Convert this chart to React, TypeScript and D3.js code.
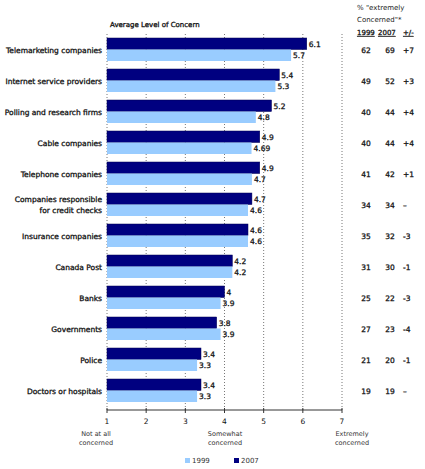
import React from 'react'
import * as d3 from 'd3'

// categories top to bottom
const categories = [
  'Telemarketing companies',
  'Internet service providers',
  'Polling and research firms',
  'Cable companies',
  'Telephone companies',
  'Companies responsible\nfor credit checks',
  'Insurance companies',
  'Canada Post',
  'Banks',
  'Governments',
  'Police',
  'Doctors or hospitals',
]
// average level of concern (1-7 scale)
const values2007 = [6.1, 5.4, 5.2, 4.9, 4.9, 4.7, 4.6, 4.2, 4, 3.8, 3.4, 3.4]
const values1999 = [5.7, 5.3, 4.8, 4.69, 4.7, 4.6, 4.6, 4.2, 3.9, 3.9, 3.3, 3.3]
const labels2007 = ['6.1', '5.4', '5.2', '4.9', '4.9', '4.7', '4.6', '4.2', '4', '3.8', '3.4', '3.4']
const labels1999 = ['5.7', '5.3', '4.8', '4.69', '4.7', '4.6', '4.6', '4.2', '3.9', '3.9', '3.3', '3.3']
// % "extremely concerned"
const pct1999 = ['62', '49', '40', '40', '41', '34', '35', '31', '25', '27', '21', '19']
const pct2007 = ['69', '52', '44', '44', '42', '34', '32', '30', '22', '23', '20', '19']
const pctDiff = ['+7', '+3', '+4', '+4', '+1', '–', '-3', '-1', '-3', '-4', '-1', '–']
const ticks = [1, 2, 3, 4, 5, 6, 7]
const scaleNotes = [
  { cx: 96, lines: ['Not at all', 'concerned'] },
  { cx: 225, lines: ['Somewhat', 'concerned'] },
  { cx: 352, lines: ['Extremely', 'concerned'] },
]

const W = 425, H = 469
const C1999 = '#99ccff'
const C2007 = '#000080'
const font = '"DejaVu Sans", Verdana, sans-serif'
// faux-bold for narrow dark labels
const heavy = { stroke: '#111', strokeWidth: 0.3 }

export default function App() {
  const x = d3.scaleLinear().domain([1, 7]).range([107, 342])
  const y = d3.scaleBand().domain(categories).range([34, 406]).paddingInner(0)
  const barH = 11.5
  const axisY = 410

  return (
    <svg width={W} height={H} style={{ position: 'absolute', left: 0, top: 0, background: '#fff' }}
      fontFamily={font}>
      {/* dotted grid */}
      {ticks.map(t => (
        <line key={t} x1={x(t)} x2={x(t)} y1={34} y2={axisY} stroke="#777" strokeWidth={1}
          strokeDasharray="1,2" />
      ))}
      <text x={110} y={27} fontSize={7} fill="#111" {...heavy}>Average Level of Concern</text>

      {categories.map((c, i) => {
        const cy = (y(c) ?? 0) + y.bandwidth() / 2
        const lines = c.split('\n')
        return (
          <g key={c}>
            <rect x={x(1)} y={cy - barH} width={x(values2007[i]) - x(1)} height={barH} fill={C2007}
              stroke="#000050" strokeWidth={0.5} />
            <rect x={x(1)} y={cy} width={x(values1999[i]) - x(1)} height={barH} fill={C1999} />
            <text x={x(values2007[i]) + 2} y={cy - barH / 2 + 3} fontSize={7.5} fill="#222" {...heavy}>
              {labels2007[i]}</text>
            <text x={x(values1999[i]) + 2} y={cy + barH / 2 + 3} fontSize={7.5} fill="#222" {...heavy}>
              {labels1999[i]}</text>
            {lines.map((l, j) => (
              <text key={j} x={102} y={cy + 3 + (j - (lines.length - 1) / 2) * 11} textAnchor="end"
                fontSize={7.5} fill="#111" {...heavy}>{l}</text>
            ))}
            <text x={366} y={cy + 3} textAnchor="middle" fontSize={7.5} fill="#222" {...heavy}>{pct1999[i]}</text>
            <text x={390} y={cy + 3} textAnchor="middle" fontSize={7.5} fill="#222" {...heavy}>{pct2007[i]}</text>
            <text x={403} y={cy + 3} fontSize={7.5} fill="#222" {...heavy}>{pctDiff[i]}</text>
          </g>
        )
      })}

      {/* table header */}
      <text x={357} y={10} fontSize={7} fill="#222">% "extremely</text>
      <text x={357} y={22} fontSize={7} fill="#222">Concerned"*</text>
      <text x={357} y={35} fontSize={7} fill="#222" {...heavy} textDecoration="underline">1999</text>
      <text x={378} y={35} fontSize={7} fill="#222" {...heavy} textDecoration="underline">2007</text>
      <text x={403} y={35} fontSize={7} fill="#222" {...heavy} textDecoration="underline">+/-</text>

      {/* bottom axis */}
      <line x1={x(1)} x2={x(7)} y1={axisY} y2={axisY} stroke="#333" strokeWidth={1} />
      {ticks.map(t => (
        <g key={t}>
          <line x1={x(t)} x2={x(t)} y1={axisY - 2} y2={axisY + 3} stroke="#333" />
          <text x={x(t)} y={424} textAnchor="middle" fontSize={7.5} fill="#111">{t}</text>
        </g>
      ))}
      {scaleNotes.map(n => n.lines.map((l, j) => (
        <text key={n.cx + l} x={n.cx} y={436 + j * 9}
          textAnchor="middle" fontSize={6.5} fill="#333">{l}</text>
      )))}

      {/* legend */}
      <rect x={185} y={458} width={5} height={5} fill={C1999} />
      <text x={192} y={463} fontSize={7} fill="#333">1999</text>
      <rect x={234} y={458} width={5} height={5} fill={C2007} />
      <text x={241} y={463} fontSize={7} fill="#333">2007</text>
    </svg>
  )
}
